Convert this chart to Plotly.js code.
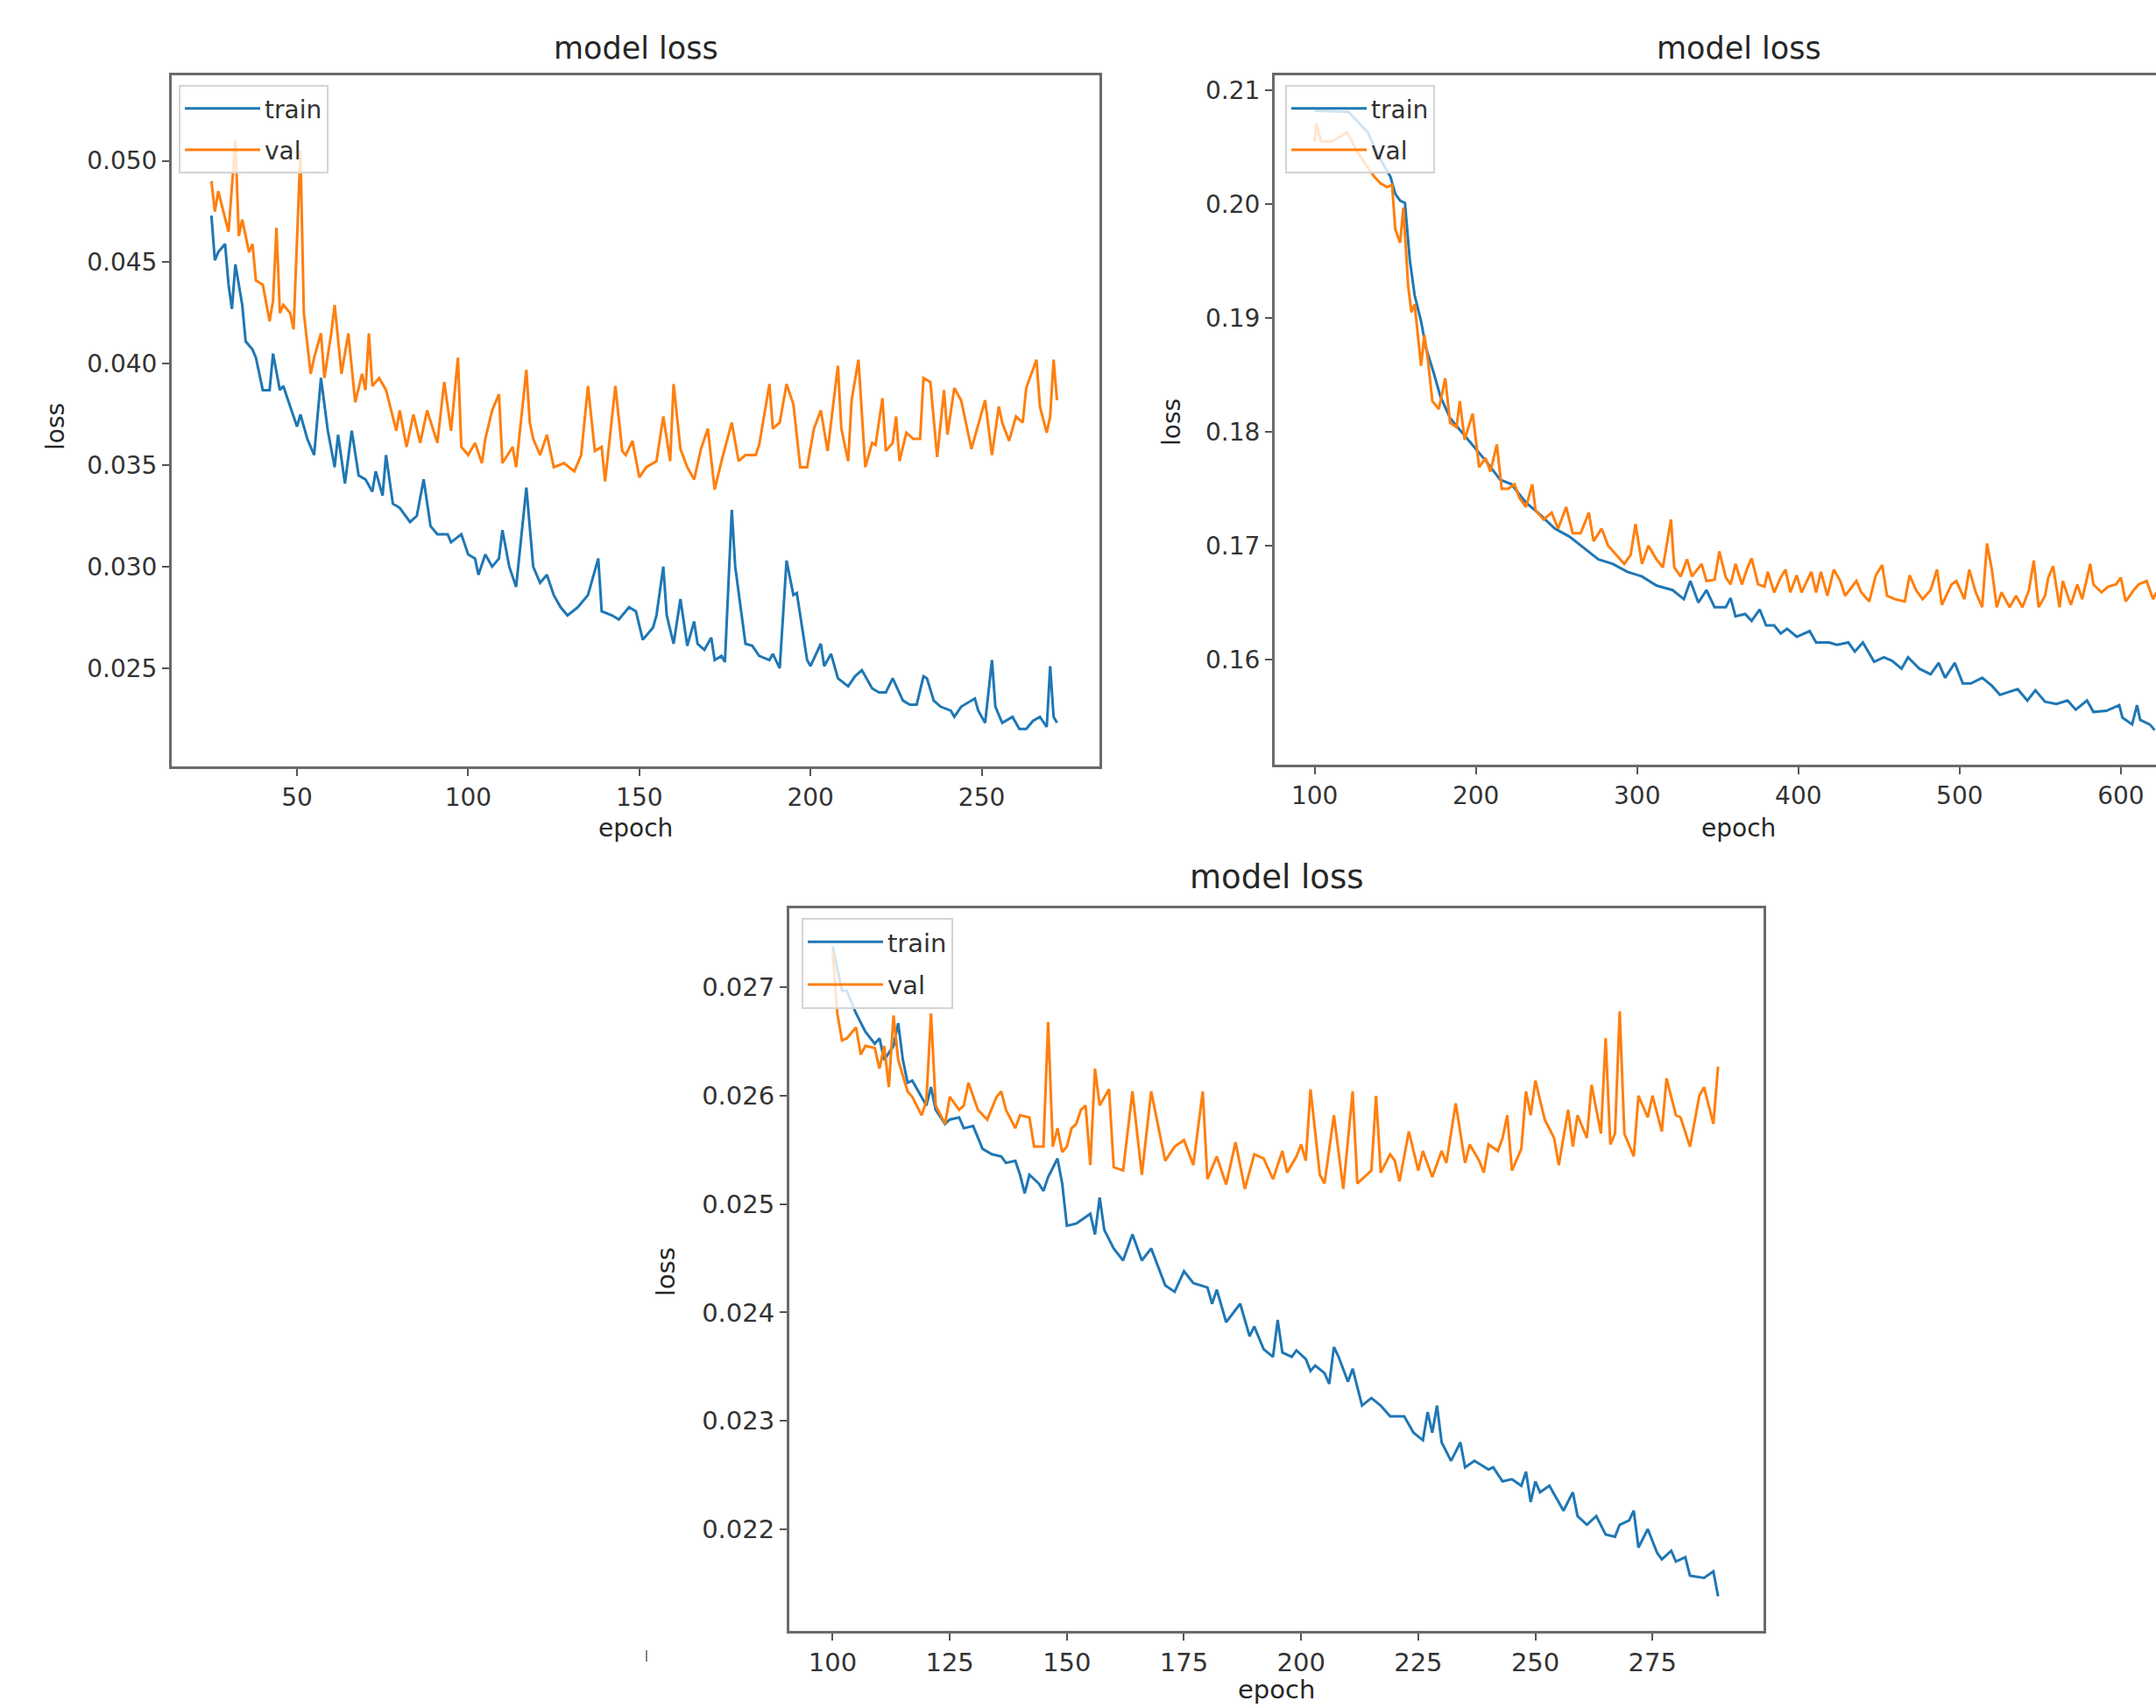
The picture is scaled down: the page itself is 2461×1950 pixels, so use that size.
<!DOCTYPE html>
<html>
<head>
<meta charset="utf-8">
<script src="https://cdn.plot.ly/plotly-3.0.1.min.js"></script>
<style>
  html, body { margin: 0; padding: 0; background: #ffffff; overflow: hidden; }
  #chart { width: 2540px; height: 1950px; }
</style>
</head>
<body>
<div id="chart"></div>
<script>
// ---------- Panel 1 (top-left) ----------
const p1TrainEpoch = [25,26,27,29,30,31,32,34,35,37,38,40,42,43,45,46,48,50,51,53,55,57,59,61,62,64,66,68,70,72,73,75,76,78,80,83,85,87,89,91,94,95,98,100,102,103,105,107,109,110,112,114,117,119,121,123,125,127,129,132,134,135,138,139,142,144,147,149,151,154,155,157,158,160,162,164,166,167,169,171,172,174,175,177,178,181,183,185,188,189,191,193,195,196,199,200,203,204,206,208,211,213,215,218,220,222,224,227,229,231,233,234,236,238,241,242,244,248,249,251,253,254,256,259,261,263,265,267,269,270,271,272];
const p1TrainLoss = [0.0473,0.0451,0.0455,0.0459,0.0439,0.0427,0.0449,0.0429,0.0411,0.0407,0.0403,0.0387,0.0387,0.0405,0.0387,0.0389,0.0379,0.0369,0.0375,0.0363,0.0355,0.0393,0.0367,0.0349,0.0365,0.0341,0.0367,0.0345,0.0343,0.0337,0.0347,0.0335,0.0355,0.0331,0.0329,0.0322,0.0325,0.0343,0.0320,0.0316,0.0316,0.0312,0.0316,0.0306,0.0304,0.0296,0.0306,0.0300,0.0304,0.0318,0.0300,0.0290,0.0339,0.0300,0.0292,0.0296,0.0286,0.0280,0.0276,0.0280,0.0284,0.0286,0.0304,0.0278,0.0276,0.0274,0.0280,0.0278,0.0264,0.0270,0.0276,0.0300,0.0276,0.0262,0.0284,0.0261,0.0273,0.0262,0.0259,0.0265,0.0254,0.0256,0.0253,0.0328,0.0300,0.0262,0.0261,0.0256,0.0254,0.0257,0.0250,0.0303,0.0286,0.0287,0.0254,0.0251,0.0262,0.0251,0.0257,0.0245,0.0241,0.0246,0.0249,0.0240,0.0238,0.0238,0.0245,0.0234,0.0232,0.0232,0.0246,0.0245,0.0234,0.0231,0.0229,0.0226,0.0231,0.0235,0.0229,0.0223,0.0254,0.0231,0.0223,0.0226,0.0220,0.0220,0.0224,0.0226,0.0221,0.0251,0.0226,0.0223];
const p1ValEpoch = [25,26,27,29,30,32,33,34,36,37,38,40,42,43,44,45,46,48,49,51,52,54,55,57,58,60,61,63,65,67,69,70,71,72,74,76,79,80,82,84,86,88,91,93,95,97,98,100,102,104,105,107,109,110,113,114,117,118,119,121,123,125,128,131,133,135,137,139,140,143,145,146,148,150,152,155,157,159,160,162,164,166,168,170,172,174,177,179,181,184,185,188,189,191,193,195,197,199,201,203,205,206,208,209,211,212,214,216,218,219,221,222,224,225,226,228,230,232,233,235,237,239,240,242,244,246,247,250,251,253,255,256,258,260,262,263,266,267,269,270,271,272];
const p1ValLoss = [0.0490,0.0475,0.0485,0.0471,0.0465,0.0510,0.0463,0.0471,0.0455,0.0459,0.0441,0.0439,0.0421,0.0431,0.0467,0.0425,0.0429,0.0425,0.0417,0.0505,0.0425,0.0395,0.0403,0.0415,0.0393,0.0415,0.0429,0.0395,0.0415,0.0381,0.0395,0.0387,0.0415,0.0389,0.0393,0.0387,0.0367,0.0377,0.0359,0.0375,0.0361,0.0377,0.0361,0.0391,0.0367,0.0403,0.0359,0.0355,0.0361,0.0351,0.0363,0.0377,0.0385,0.0351,0.0359,0.0349,0.0397,0.0371,0.0363,0.0355,0.0365,0.0349,0.0351,0.0347,0.0355,0.0389,0.0357,0.0359,0.0342,0.0389,0.0357,0.0355,0.0362,0.0344,0.0349,0.0352,0.0374,0.0352,0.0390,0.0358,0.0349,0.0343,0.0358,0.0368,0.0338,0.0352,0.0371,0.0352,0.0355,0.0355,0.0360,0.0390,0.0368,0.0371,0.0390,0.0380,0.0349,0.0349,0.0368,0.0377,0.0357,0.0371,0.0399,0.0368,0.0352,0.0382,0.0402,0.0349,0.0361,0.0360,0.0383,0.0357,0.0361,0.0374,0.0352,0.0366,0.0363,0.0363,0.0393,0.0391,0.0354,0.0387,0.0365,0.0388,0.0382,0.0366,0.0358,0.0376,0.0382,0.0355,0.0379,0.0371,0.0362,0.0374,0.0371,0.0388,0.0402,0.0379,0.0366,0.0374,0.0402,0.0382];

// ---------- Panel 2 (top-right, cropped at right edge) ----------
const p2TrainEpoch = [100,121,133,139,147,150,153,156,159,162,166,169,174,178,184,191,200,207,215,222,231,240,249,258,267,276,285,294,303,312,322,329,333,338,343,348,355,358,361,367,371,376,380,385,389,393,399,407,411,419,424,431,435,440,447,453,458,464,468,475,482,487,491,497,502,507,514,520,525,531,536,542,547,553,560,567,572,579,583,591,599,601,607,610,612,618,621];
const p2TrainLoss = [0.2082,0.2081,0.2063,0.2044,0.2024,0.2009,0.2003,0.2001,0.1951,0.1920,0.1897,0.1874,0.1851,0.1831,0.1812,0.1800,0.1785,0.1773,0.1758,0.1754,0.1738,0.1727,0.1715,0.1708,0.1698,0.1688,0.1684,0.1677,0.1673,0.1665,0.1661,0.1653,0.1669,0.1650,0.1661,0.1646,0.1646,0.1654,0.1638,0.1640,0.1634,0.1644,0.1630,0.1630,0.1623,0.1627,0.1620,0.1625,0.1615,0.1615,0.1613,0.1615,0.1607,0.1615,0.1598,0.1602,0.1599,0.1592,0.1602,0.1592,0.1587,0.1597,0.1584,0.1597,0.1579,0.1579,0.1584,0.1577,0.1569,0.1572,0.1574,0.1564,0.1573,0.1563,0.1561,0.1564,0.1556,0.1564,0.1554,0.1555,0.1560,0.1549,0.1543,0.1560,0.1547,0.1543,0.1538];
const p2ValEpoch = [100,101,104,111,120,126,131,137,141,145,148,150,153,155,158,160,162,166,168,170,173,177,181,184,188,190,193,198,202,206,209,213,216,220,224,227,231,235,237,242,247,251,256,260,265,270,273,278,282,287,292,296,299,303,307,312,316,321,323,327,331,334,340,343,348,351,355,358,361,365,368,371,375,379,381,385,389,392,395,399,402,408,411,414,418,422,426,429,436,439,444,448,452,455,460,466,469,473,477,482,486,489,495,498,503,506,510,514,517,520,523,526,531,535,539,543,546,549,553,555,558,562,564,569,573,576,581,583,588,592,597,600,603,608,611,616,620,622];
const p2ValLoss = [0.2055,0.2071,0.2055,0.2055,0.2063,0.2047,0.2036,0.2024,0.2018,0.2015,0.2017,0.1978,0.1966,0.1997,0.1928,0.1905,0.1912,0.1858,0.1885,0.1866,0.1827,0.1820,0.1847,0.1808,0.1804,0.1827,0.1793,0.1816,0.1769,0.1777,0.1765,0.1789,0.1750,0.1750,0.1754,0.1742,0.1734,0.1754,0.1731,0.1723,0.1729,0.1715,0.1734,0.1711,0.1711,0.1729,0.1704,0.1715,0.1700,0.1692,0.1684,0.1692,0.1719,0.1684,0.1700,0.1688,0.1681,0.1723,0.1681,0.1673,0.1688,0.1673,0.1684,0.1669,0.1670,0.1695,0.1672,0.1666,0.1684,0.1666,0.1679,0.1689,0.1666,0.1664,0.1677,0.1659,0.1672,0.1679,0.1659,0.1674,0.1659,0.1677,0.1659,0.1677,0.1656,0.1679,0.1669,0.1656,0.1669,0.1659,0.1651,0.1674,0.1683,0.1656,0.1653,0.1651,0.1674,0.1661,0.1653,0.1661,0.1679,0.1648,0.1666,0.1669,0.1653,0.1679,0.1659,0.1646,0.1702,0.1679,0.1646,0.1659,0.1646,0.1656,0.1646,0.1661,0.1687,0.1646,0.1656,0.1672,0.1682,0.1646,0.1669,0.1648,0.1666,0.1653,0.1684,0.1666,0.1659,0.1664,0.1666,0.1672,0.1651,0.1661,0.1666,0.1669,0.1653,0.1659];

// ---------- Panel 3 (bottom) ----------
const p3TrainEpoch = [100,102,103,105,107,109,110,111,113,114,115,116,117,119,120,121,122,124,125,127,128,130,132,134,136,137,139,140,141,142,144,145,146,148,149,150,152,153,155,156,157,158,160,162,164,166,168,171,173,175,177,180,181,182,184,187,189,190,192,194,195,196,198,199,201,202,203,205,206,207,208,210,211,213,215,217,219,222,224,226,227,228,229,230,232,234,235,237,240,241,243,245,247,248,249,250,251,253,256,258,259,261,263,265,267,268,270,271,272,274,276,277,279,280,282,283,286,288,289];
const p3TrainLoss = [0.02738,0.02697,0.02697,0.02676,0.02659,0.02648,0.02653,0.02633,0.02646,0.02667,0.02633,0.02612,0.02614,0.02599,0.02591,0.02608,0.02587,0.02574,0.02578,0.02580,0.02570,0.02572,0.02551,0.02546,0.02544,0.02538,0.02540,0.02527,0.02510,0.02527,0.02519,0.02512,0.02525,0.02542,0.02519,0.02480,0.02482,0.02485,0.02491,0.02472,0.02506,0.02476,0.02459,0.02448,0.02472,0.02448,0.02459,0.02425,0.02419,0.02438,0.02427,0.02423,0.02408,0.02421,0.02391,0.02408,0.02378,0.02387,0.02366,0.02359,0.02393,0.02363,0.02359,0.02365,0.02357,0.02346,0.02351,0.02344,0.02334,0.02368,0.02359,0.02336,0.02348,0.02314,0.02321,0.02314,0.02304,0.02304,0.02289,0.02282,0.02308,0.02289,0.02314,0.02280,0.02263,0.02280,0.02257,0.02263,0.02255,0.02257,0.02244,0.02246,0.02240,0.02253,0.02225,0.02244,0.02234,0.02240,0.02217,0.02234,0.02212,0.02204,0.02212,0.02195,0.02193,0.02204,0.02208,0.02217,0.02183,0.02200,0.02178,0.02172,0.02180,0.02170,0.02174,0.02157,0.02155,0.02161,0.02138];
const p3ValEpoch = [100,101,102,103,105,106,107,109,110,111,112,113,114,116,117,119,120,121,122,124,125,127,128,129,131,133,135,136,137,139,140,142,143,145,146,147,148,149,150,151,152,153,154,155,156,157,159,160,162,164,166,168,170,171,173,175,177,179,180,182,184,186,188,190,192,194,196,197,199,200,201,202,204,205,207,208,209,211,212,215,216,217,219,220,221,223,225,226,228,230,231,233,235,236,238,239,240,242,243,244,245,247,248,249,250,252,254,255,257,258,259,261,262,264,265,266,267,268,269,271,272,274,275,277,278,280,281,283,285,286,288,289];
const p3ValLoss = [0.02733,0.02676,0.02651,0.02653,0.02663,0.02638,0.02646,0.02644,0.02625,0.02646,0.02608,0.02674,0.02633,0.02604,0.02599,0.02582,0.02595,0.02676,0.02591,0.02574,0.02599,0.02587,0.02591,0.02612,0.02587,0.02578,0.02599,0.02604,0.02587,0.02570,0.02582,0.02580,0.02553,0.02553,0.02668,0.02553,0.02570,0.02548,0.02553,0.02570,0.02574,0.02587,0.02591,0.02536,0.02625,0.02591,0.02606,0.02534,0.02531,0.02604,0.02527,0.02604,0.02561,0.02540,0.02553,0.02559,0.02536,0.02604,0.02523,0.02544,0.02518,0.02557,0.02514,0.02546,0.02542,0.02523,0.02549,0.02529,0.02544,0.02555,0.02540,0.02606,0.02527,0.02519,0.02582,0.02549,0.02514,0.02604,0.02519,0.02531,0.02600,0.02529,0.02546,0.02540,0.02521,0.02567,0.02531,0.02549,0.02525,0.02549,0.02538,0.02593,0.02538,0.02555,0.02540,0.02529,0.02555,0.02549,0.02561,0.02582,0.02531,0.02551,0.02604,0.02582,0.02614,0.02578,0.02561,0.02536,0.02587,0.02553,0.02582,0.02561,0.02610,0.02565,0.02653,0.02555,0.02565,0.02678,0.02565,0.02544,0.02600,0.02580,0.02600,0.02567,0.02616,0.02582,0.02580,0.02553,0.02600,0.02608,0.02574,0.02627];

const seriesNames = ['train', 'val'];
const chartTitle = 'model loss';
const xLabel = 'epoch';
const yLabel = 'loss';

// ---------- Styling / layout ----------
const BLUE = '#1f77b4', ORANGE = '#ff7f0e';
const W = 2540, H = 1950;
const FONT = 'DejaVu Sans, Liberation Sans, sans-serif';

function px(x) { return x / W; }
function py(y) { return 1 - y / H; }

function line(x, y, name, color, xa, ya, leg) {
  return {
    type: 'scatter', mode: 'lines', x: x, y: y, name: name,
    line: { color: color, width: 3 },
    xaxis: xa, yaxis: ya, legend: leg, legendgroup: leg + name,
    hoverinfo: 'skip'
  };
}

const traces = [
  line(p1TrainEpoch, p1TrainLoss, seriesNames[0], BLUE, 'x', 'y', 'legend'),
  line(p1ValEpoch, p1ValLoss, seriesNames[1], ORANGE, 'x', 'y', 'legend'),
  line(p2TrainEpoch, p2TrainLoss, seriesNames[0], BLUE, 'x2', 'y2', 'legend2'),
  line(p2ValEpoch, p2ValLoss, seriesNames[1], ORANGE, 'x2', 'y2', 'legend2'),
  line(p3TrainEpoch, p3TrainLoss, seriesNames[0], BLUE, 'x3', 'y3', 'legend3'),
  line(p3ValEpoch, p3ValLoss, seriesNames[1], ORANGE, 'x3', 'y3', 'legend3')
];

function axis(extra, fs) {
  return Object.assign({
    showgrid: false, zeroline: false, showline: true, mirror: true,
    linecolor: '#6a6a6a', linewidth: 3,
    ticks: 'outside', ticklen: 8, tickwidth: 2, tickcolor: '#555',
    tickfont: { family: FONT, size: fs, color: '#333' },
    fixedrange: true
  }, extra);
}

function legendAt(x, y, fs) {
  return {
    x: x, y: y, xanchor: 'left', yanchor: 'top',
    bgcolor: 'rgba(255,255,255,0.8)', bordercolor: '#d4d4d4', borderwidth: 2,
    font: { family: FONT, size: fs, color: '#333' },
    tracegroupgap: 8, itemwidth: 86, traceorder: 'grouped'
  };
}

function ann(text, x, y, fs, angle) {
  return {
    text: text, xref: 'paper', yref: 'paper', x: x, y: y,
    xanchor: 'center', yanchor: 'middle', showarrow: false,
    textangle: angle || 0,
    font: { family: FONT, size: fs, color: '#262626' }
  };
}

const layout = {
  width: W, height: H,
  margin: { l: 0, r: 0, t: 0, b: 0 },
  paper_bgcolor: '#ffffff', plot_bgcolor: '#ffffff',
  showlegend: true,
  xaxis: axis({ domain: [px(196), px(1255)], range: [13.4, 284.4], tickvals: [50, 100, 150, 200, 250], anchor: 'y' }, 28),
  yaxis: axis({ domain: [py(875), py(86)], range: [0.020157, 0.054213], tickvals: [0.025, 0.030, 0.035, 0.040, 0.045, 0.050], tickformat: '.3f', anchor: 'x' }, 28),
  xaxis2: axis({ domain: [px(1455), px(2514)], range: [75.2, 650.6], tickvals: [100, 200, 300, 400, 500, 600], anchor: 'y2' }, 28),
  yaxis2: axis({ domain: [py(873), py(86)], range: [0.15077, 0.21131], tickvals: [0.16, 0.17, 0.18, 0.19, 0.20, 0.21], tickformat: '.2f', anchor: 'x2' }, 28),
  xaxis3: axis({ domain: [px(901), px(2013)], range: [90.76, 298.7], tickvals: [100, 125, 150, 175, 200, 225, 250, 275], anchor: 'y3' }, 29),
  yaxis3: axis({ domain: [py(1862), py(1037)], range: [0.02106, 0.02773], tickvals: [0.022, 0.023, 0.024, 0.025, 0.026, 0.027], tickformat: '.3f', anchor: 'x3' }, 29),
  legend: legendAt(px(204), py(97), 28),
  legend2: legendAt(px(1467), py(97), 28),
  legend3: legendAt(px(915), py(1048), 29),
  annotations: [
    ann(chartTitle, px(725.5), py(55), 35),
    ann(xLabel, px(725.5), py(946), 28),
    ann(yLabel, px(63), py(487), 28, -90),
    ann(chartTitle, px(1984.5), py(55), 35),
    ann(xLabel, px(1984.5), py(946), 28),
    ann(yLabel, px(1337), py(482), 28, -90),
    ann(chartTitle, px(1457), py(1001), 37),
    ann(xLabel, px(1457), py(1929), 29),
    ann(yLabel, px(760), py(1452), 29, -90)
  ],
  shapes: [
    { type: 'line', xref: 'paper', yref: 'paper', x0: px(738), x1: px(738), y0: py(1884), y1: py(1897), line: { color: '#888', width: 2 } }
  ]
};

Plotly.newPlot('chart', traces, layout, { staticPlot: true, displayModeBar: false });
</script>
</body>
</html>
